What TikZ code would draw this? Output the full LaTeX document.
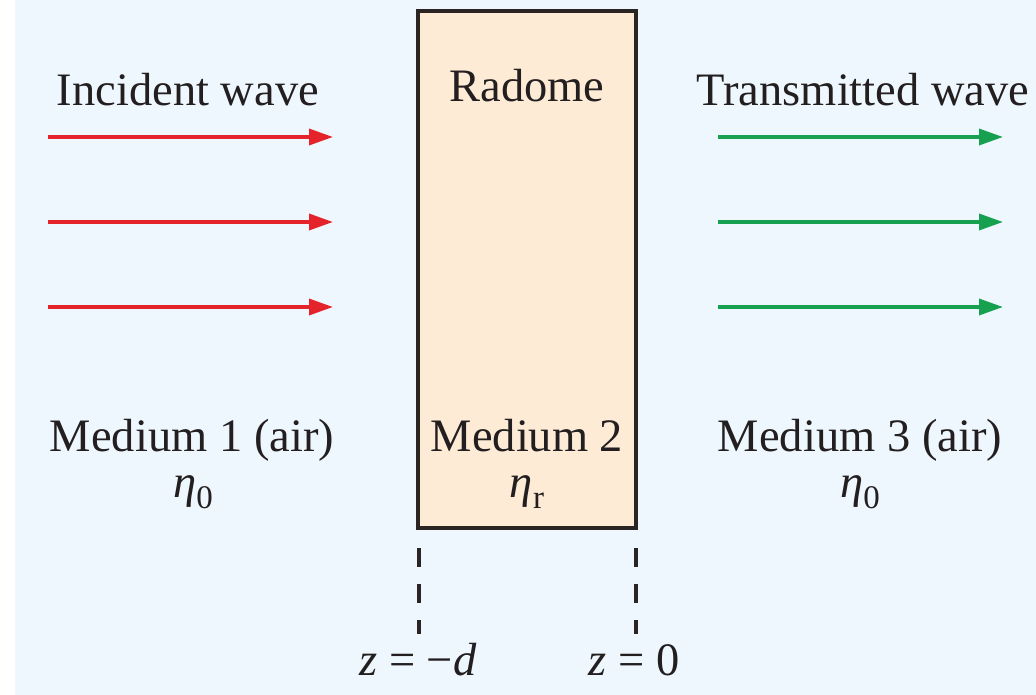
\documentclass[tikz,border=0pt]{standalone}
\usepackage{fontspec}
\setmainfont{Liberation Serif}
\usetikzlibrary{arrows.meta}
\definecolor{bgblue}{HTML}{EEF7FD}
\definecolor{boxfill}{HTML}{FDEBD6}
\definecolor{incred}{HTML}{E4232B}
\definecolor{trgreen}{HTML}{17A04F}
\definecolor{boxline}{HTML}{2A2522}
\definecolor{txt}{HTML}{231F20}
\newcommand{\bigtxt}{\fontsize{46.5}{50}\selectfont}
\newcommand{\subtxt}{\fontsize{33}{36}\selectfont}
\tikzset{
  lbl/.style={anchor=base, inner sep=0pt, font=\bigtxt, text=txt},
  incarrow/.style={draw=incred, line width=3.5pt, -{Triangle[length=24pt,width=16pt]}},
  trarrow/.style={draw=trgreen, line width=3.5pt, -{Triangle[length=24pt,width=16pt]}},
  radbox/.style={draw=boxline, fill=boxfill, line width=3.5pt},
  zline/.style={draw=boxline, line width=3.5pt, dash pattern=on 19pt off 17pt}
}
\begin{document}
\begin{tikzpicture}[x=1pt,y=-1pt]
\useasboundingbox (0,0) rectangle (1036,695);
\fill[white] (0,0) rectangle (1036,695);
\fill[bgblue] (15,0) rectangle (1036,695);
% radome box
\draw[radbox] (418,11) rectangle (636,528);
% incident and transmitted arrows
\foreach \y/\n in {137/1,222/2,307/3}{
  \coordinate (is\n) at (48,\y);
  \coordinate (ie\n) at (333,\y);
  \draw[incarrow] (is\n) -- (ie\n);
  \coordinate (ts\n) at (718,\y);
  \coordinate (te\n) at (1003,\y);
  \draw[trarrow] (ts\n) -- (te\n);
}
% labels
\node[lbl] (inc) at (188,106) {Incident wave};
\node[lbl] (rad) at (527,102) {Radome};
\node[lbl] (trn) at (863,106) {Transmitted wave};
\node[lbl] (m1) at (192,451) {Medium 1 (air)};
\node[lbl] (m2) at (527,451) {Medium 2};
\node[lbl] (m3) at (860,451) {Medium 3 (air)};
\node[lbl] (e1) at (193,497) {\textit{η}\raisebox{-0.25em}{\subtxt 0}};
\node[lbl] (e2) at (527,497) {\textit{η}\raisebox{-0.25em}{\subtxt r}};
\node[lbl] (e3) at (860,497) {\textit{η}\raisebox{-0.25em}{\subtxt 0}};
% dashed reference lines
\coordinate (d1s) at (419,548);
\coordinate (d1e) at (419,634);
\coordinate (d2s) at (636,548);
\coordinate (d2e) at (636,634);
\draw[zline] (d1s) -- (d1e);
\draw[zline] (d2s) -- (d2e);
\node[lbl] (z1) at (418,675) {\textit{z} = −\textit{d}};
\node[lbl] (z2) at (634,675) {\textit{z} = 0};
\end{tikzpicture}
\end{document}
